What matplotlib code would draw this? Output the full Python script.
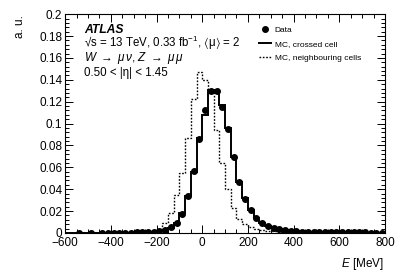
import numpy as np
import matplotlib
matplotlib.use("Agg")
import matplotlib.pyplot as plt
from matplotlib.ticker import MultipleLocator, FuncFormatter
from matplotlib.lines import Line2D

plt.rcParams['font.family'] = ['Liberation Sans', 'DejaVu Sans']
plt.rcParams['mathtext.fontset'] = 'custom'
plt.rcParams['mathtext.rm'] = 'Liberation Sans'
plt.rcParams['mathtext.it'] = 'Liberation Sans:italic'
plt.rcParams['mathtext.bf'] = 'Liberation Sans:bold'
plt.rcParams['mathtext.fallback'] = 'stixsans'

# 25 MeV bins from -600 to 800
edges = np.arange(-600, 801, 25)

# data points (bin centre, value)
data_x = [-537.5, -487.5, -437.5, -412.5, -387.5, -362.5, -337.5, -312.5, -287.5,
          -262.5, -237.5, -212.5, -187.5, -162.5, -137.5, -112.5, -87.5, -62.5,
          -37.5, -12.5, 12.5, 37.5, 62.5, 87.5, 112.5, 137.5, 162.5, 187.5, 212.5,
          237.5, 262.5, 287.5, 312.5, 337.5, 362.5, 387.5, 412.5, 437.5, 462.5,
          487.5, 512.5, 537.5, 562.5, 587.5, 612.5, 637.5, 662.5, 687.5, 712.5,
          737.5, 762.5, 787.5]
data_y = [0.0002, 0.0002, 0.0002, 0.0003, 0.0003, 0.0003, 0.0004, 0.0004, 0.0005,
          0.0006, 0.0008, 0.0012, 0.0018, 0.0028, 0.0050, 0.0092, 0.0177, 0.0334,
          0.0568, 0.0855, 0.1120, 0.1295, 0.1295, 0.1155, 0.0950, 0.0690, 0.0467,
          0.0310, 0.0208, 0.0138, 0.0090, 0.0063, 0.0046, 0.0034, 0.0025, 0.0019,
          0.0016, 0.0013, 0.0011, 0.0010, 0.0009, 0.0008, 0.0007, 0.0007, 0.0006,
          0.0006, 0.0005, 0.0005, 0.0005, 0.0004, 0.0004, 0.0004]

# MC, crossed cell (one value per 25 MeV bin, -600 .. 800)
mc_crossed = [0.0, 0.0, 0.0002, 0.0002, 0.0002, 0.0002, 0.0002, 0.0003, 0.0003, 0.0003,
              0.0004, 0.0004, 0.0005, 0.0006, 0.0008, 0.0012, 0.0018, 0.0028, 0.0048, 0.0090,
              0.0180, 0.0340, 0.0560, 0.0870, 0.1077, 0.1306, 0.1306, 0.1170, 0.0955, 0.0690,
              0.0470, 0.0315, 0.0210, 0.0140, 0.0092, 0.0064, 0.0047, 0.0034, 0.0025, 0.0019,
              0.0015, 0.0012, 0.0010, 0.0009, 0.0008, 0.0007, 0.0007, 0.0006, 0.0006, 0.0005,
              0.0005, 0.0005, 0.0004, 0.0004, 0.0004, 0.0004]

# MC, neighbouring cells (same binning)
mc_neighbour = [0.0, 0.0, 0.0, 0.0, 0.0001, 0.0001, 0.0001, 0.0001, 0.0001, 0.0002,
                0.0002, 0.0002, 0.0003, 0.0004, 0.0008, 0.0016, 0.0040, 0.0090, 0.0180, 0.0345,
                0.0550, 0.0870, 0.1220, 0.1467, 0.1397, 0.1290, 0.0940, 0.0635, 0.0406, 0.0232,
                0.0132, 0.0086, 0.0058, 0.0040, 0.0028, 0.0020, 0.0014, 0.0010, 0.0007, 0.0005,
                0.0004, 0.0003, 0.0003, 0.0002, 0.0002, 0.0002, 0.0002, 0.0002, 0.0001, 0.0001,
                0.0001, 0.0001, 0.0001, 0.0001, 0.0001, 0.0001]

fig = plt.figure(figsize=(4.07, 2.77), dpi=100)
ax = fig.add_axes([0.160, 0.159, 0.786, 0.790])

ax.stairs(mc_neighbour, edges, color='black', lw=1.0, linestyle=(0, (1.2, 1.2)))
ax.stairs(mc_crossed, edges, color='black', lw=1.4)
ax.plot(data_x, data_y, 'o', color='black', ms=4.0, lw=0)

ax.set_xlim(-600, 800)
ax.set_ylim(0, 0.2)
ax.xaxis.set_major_locator(MultipleLocator(200))
ax.xaxis.set_minor_locator(MultipleLocator(50))
ax.yaxis.set_major_locator(MultipleLocator(0.02))
ax.yaxis.set_minor_locator(MultipleLocator(0.004))
ax.yaxis.set_major_formatter(FuncFormatter(lambda v, p: '%g' % round(v, 4)))
ax.xaxis.set_major_formatter(FuncFormatter(lambda v, p: ('%d' % v).replace('-', '\u2212')))
ax.tick_params(which='both', direction='in', top=True, right=True, labelsize=8.5, width=0.7)
ax.tick_params(which='major', length=6)
ax.tick_params(which='minor', length=3)
ax.tick_params(axis='y', pad=2)
ax.tick_params(axis='x', pad=3)
for s in ax.spines.values():
    s.set_linewidth(0.8)

fig.text(0.048, 0.945, 'a. u.', rotation=90, ha='center', va='top', fontsize=8.5)
fig.text(0.944, 0.035, r'$E$ [MeV]', ha='right', va='baseline', fontsize=8.5)

tx = 0.059
ax.text(tx, 0.915, 'ATLAS', transform=ax.transAxes, fontsize=8.7,
        fontweight='bold', fontstyle='italic', va='baseline')
ax.text(tx, 0.848, r'√s = 13 TeV, 0.33 fb$^{-1}$, $\langle\mathrm{\mu}\rangle$ = 2',
        transform=ax.transAxes, fontsize=8.3, va='baseline')
ax.text(tx, 0.784, r'$W\ \rightarrow\ \mu\,\nu$, $Z\ \rightarrow\ \mu\,\mu$',
        transform=ax.transAxes, fontsize=8.5, va='baseline')
ax.text(tx, 0.717, '0.50 < |η| < 1.45', transform=ax.transAxes,
        fontsize=8.3, va='baseline')

handles = [Line2D([], [], marker='o', color='black', ms=4.0, lw=0),
           Line2D([], [], color='black', lw=1.4),
           Line2D([], [], color='black', lw=1.0, linestyle=(0, (1.2, 1.2)))]
labels = ['Data', 'MC, crossed cell', 'MC, neighbouring cells']
ax.legend(handles, labels, loc='upper left', bbox_to_anchor=(0.606, 0.945),
          frameon=False, fontsize=6, handlelength=1.45, handletextpad=0.45,
          labelspacing=0.75, borderaxespad=0, borderpad=0)

fig.savefig('out.png', dpi=100)
